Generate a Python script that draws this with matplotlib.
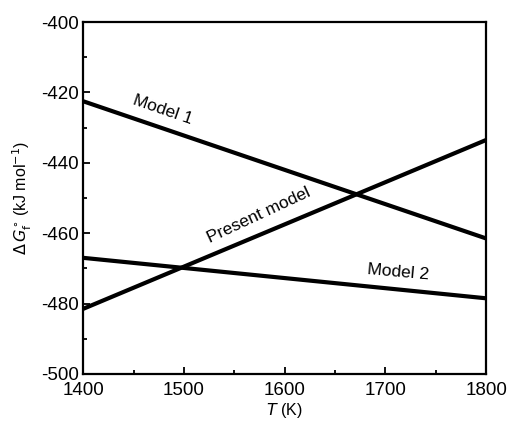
import matplotlib.pyplot as plt
from matplotlib.ticker import MultipleLocator

plt.rcParams['font.family'] = ['Liberation Sans', 'DejaVu Sans']
plt.rcParams['axes.unicode_minus'] = False

# End points of each free-energy line (K, kJ/mol)
temps = [1400, 1800]
model1 = [-422.5, -461.5]
model2 = [-467.0, -478.5]
present = [-481.5, -433.5]

fig = plt.figure(figsize=(5.07, 4.24), dpi=100)
ax = fig.add_axes([0.164, 0.118, 0.795, 0.830])

for ys in (model1, model2, present):
    ax.plot(temps, ys, color='black', lw=3.0, solid_capstyle='butt')

ax.set_xlim(1400, 1800)
ax.set_ylim(-500, -400)
ax.xaxis.set_major_locator(MultipleLocator(100))
ax.xaxis.set_minor_locator(MultipleLocator(50))
ax.yaxis.set_major_locator(MultipleLocator(20))
ax.yaxis.set_minor_locator(MultipleLocator(10))
ax.tick_params(which='both', direction='in', top=False, right=False,
               labelsize=13.5, width=1.3)
ax.tick_params(which='major', length=5)
ax.tick_params(which='minor', length=3)
ax.tick_params(axis='x', pad=6)
ax.tick_params(axis='y', pad=3)
for s in ax.spines.values():
    s.set_linewidth(1.6)

ax.text(1479, -425.0, 'Model 1', fontsize=12.5, rotation=-19,
        ha='center', va='center')
ax.text(1574, -455.0, 'Present model', fontsize=12.5, rotation=25,
        ha='center', va='center')
ax.text(1713, -471.0, 'Model 2', fontsize=12.5, rotation=-5,
        ha='center', va='center')

ax.set_xlabel(r'$\mathit{T}$ (K)', fontsize=11.5, labelpad=1)
ax.set_ylabel(r'$\Delta\,\mathit{G}_{\mathrm{f}}^{\circ}$ (kJ mol$^{\mathrm{-1}}$)',
              fontsize=11.5, labelpad=5)

fig.savefig('out.png', dpi=100)
